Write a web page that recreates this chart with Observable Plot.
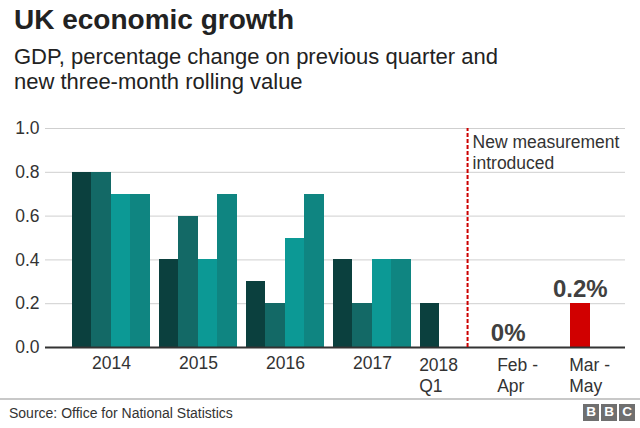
<!DOCTYPE html>
<html>
<head>
<meta charset="utf-8">
<script src="https://cdn.jsdelivr.net/npm/d3@7"></script>
<script src="https://cdn.jsdelivr.net/npm/@observablehq/plot@0.6"></script>
<style>
  html, body { margin: 0; padding: 0; background: #fff; }
  body { width: 640px; height: 428px; position: relative; overflow: hidden;
         font-family: "Liberation Sans", Arial, Helvetica, sans-serif; color: #222; }
  #title { position: absolute; left: 14px; top: 4px; font-size: 28px; line-height: 32px; font-weight: bold; color: #222; white-space: nowrap; }
  #subtitle { position: absolute; left: 14px; top: 45px; font-size: 22px; line-height: 24.5px; color: #222; }
  #chart { position: absolute; left: 0; top: 100px; }
  #rule { position: absolute; left: 0; top: 398px; width: 640px; height: 2px; background: #c8c8c8; }
  #source { position: absolute; left: 9px; top: 405px; font-size: 14px; line-height: 16px; color: #333; }
  #logo { position: absolute; right: 5px; top: 404px; display: flex; gap: 2px; }
  #logo span { display: block; width: 16px; height: 16.5px; background: #6f6f6f; color: #fff; font-weight: bold; font-size: 13.5px; line-height: 16.5px; text-align: center; }
</style>
</head>
<body>
<div id="title">UK economic growth</div>
<div id="subtitle">GDP, percentage change on previous quarter and<br>new three-month rolling value</div>
<div id="chart"></div>
<div id="rule"></div>
<div id="source">Source: Office for National Statistics</div>
<div id="logo"><span>B</span><span>B</span><span>C</span></div>
<script>
// ---- data ----
const years = ["2014", "2015", "2016", "2017"];
const quarters = ["Q1", "Q2", "Q3", "Q4"];
const growth2014 = [0.8, 0.8, 0.7, 0.7];
const growth2015 = [0.4, 0.6, 0.4, 0.7];
const growth2016 = [0.3, 0.2, 0.5, 0.7];
const growth2017 = [0.4, 0.2, 0.4, 0.4];
const growth2018 = [0.2];
const label2018 = "2018\nQ1";
const rollingLabels = ["Feb -\nApr", "Mar -\nMay"];
const rollingValues = [0, 0.2];
const yTicks = [0, 0.2, 0.4, 0.6, 0.8, 1.0];
const annotation = "New measurement\nintroduced";
const quarterColors = ["#0b403e", "#136966", "#0c9995", "#0f8581"];
const rollingColor = "#d10000";

// ---- layout (bar units) ----
const GROUP_STEP = 4.46;
const ROLL_START = 4 * GROUP_STEP + 4;
const ROLL_STEP = 3.7;
const DIVIDER = 4 * GROUP_STEP + 2.42;

const quarterGroups = [growth2014, growth2015, growth2016, growth2017, growth2018];
const bars = quarterGroups.flatMap((vals, i) =>
  vals.map((v, q) => ({x1: i * GROUP_STEP + q, x2: i * GROUP_STEP + q + 1, value: v, key: quarters[q]})));
const rolling = rollingValues.map((v, j) => ({
  x1: ROLL_START + j * ROLL_STEP, x2: ROLL_START + j * ROLL_STEP + 1, value: v,
  key: "Rolling", label: rollingLabels[j], text: `${v}%`}));
const yearLabels = years.map((y, i) => ({x: i * GROUP_STEP + 2, label: y}));
const leftLabels = [{x: 4 * GROUP_STEP + 0.5, label: label2018}]
  .concat(rolling.map(d => ({x: (d.x1 + d.x2) / 2, label: d.label})));

const font = "'Liberation Sans', Arial, Helvetica, sans-serif";
const chart = Plot.plot({
  width: 640,
  height: 296,
  marginTop: 28,
  marginBottom: 49,
  marginLeft: 45,
  marginRight: 15,
  style: {fontFamily: font, fontSize: "17.5px", color: "#333", background: "transparent", overflow: "visible"},
  x: {type: "linear", domain: [-1.3846, 28.359], axis: null},
  y: {domain: [0, 1], axis: null},
  color: {domain: quarters.concat(["Rolling"]), range: quarterColors.concat([rollingColor])},
  marks: [
    Plot.gridY(yTicks, {stroke: "#cfcfcf", strokeOpacity: 1, strokeWidth: 1}),
    Plot.axisY(yTicks, {tickSize: 0, tickPadding: 6, tickFormat: d3.format(".1f"), fill: "#333", fontSize: 17.5, label: null}),
    Plot.rectY(bars, {x1: "x1", x2: "x2", y: "value", fill: "key", inset: 0, shapeRendering: "crispEdges"}),
    Plot.rectY(rolling, {x1: "x1", x2: "x2", y: "value", fill: "key", inset: 0, shapeRendering: "crispEdges"}),
    Plot.ruleY([0], {stroke: "#333", strokeWidth: 2}),
    Plot.ruleX([DIVIDER], {y1: 0, y2: 1, stroke: "#cc0000", strokeWidth: 2, strokeDasharray: "4,2"}),
    Plot.text([annotation], {x: () => DIVIDER, y: () => 1, text: d => d, dx: 5, dy: 4.5, textAnchor: "start", lineAnchor: "top", lineHeight: 1.2, fontSize: 17.5, fill: "#333"}),
    Plot.text(rolling, {x: d => (d.x1 + d.x2) / 2, y: "value", text: "text", dy: -7, lineAnchor: "bottom", fontWeight: "bold", fontSize: 24, fill: "#404040"}),
    Plot.text(yearLabels, {x: "x", y: () => 0, text: "label", dy: 9, lineAnchor: "top", fontSize: 17.5, fill: "#333"}),
    Plot.text(leftLabels, {x: "x", y: () => 0, text: "label", dx: -11, dy: 9, textAnchor: "start", lineAnchor: "top", lineHeight: 1.2, fontSize: 17.5, fill: "#333"})
  ]
});
document.getElementById("chart").appendChild(chart);
</script>
</body>
</html>
